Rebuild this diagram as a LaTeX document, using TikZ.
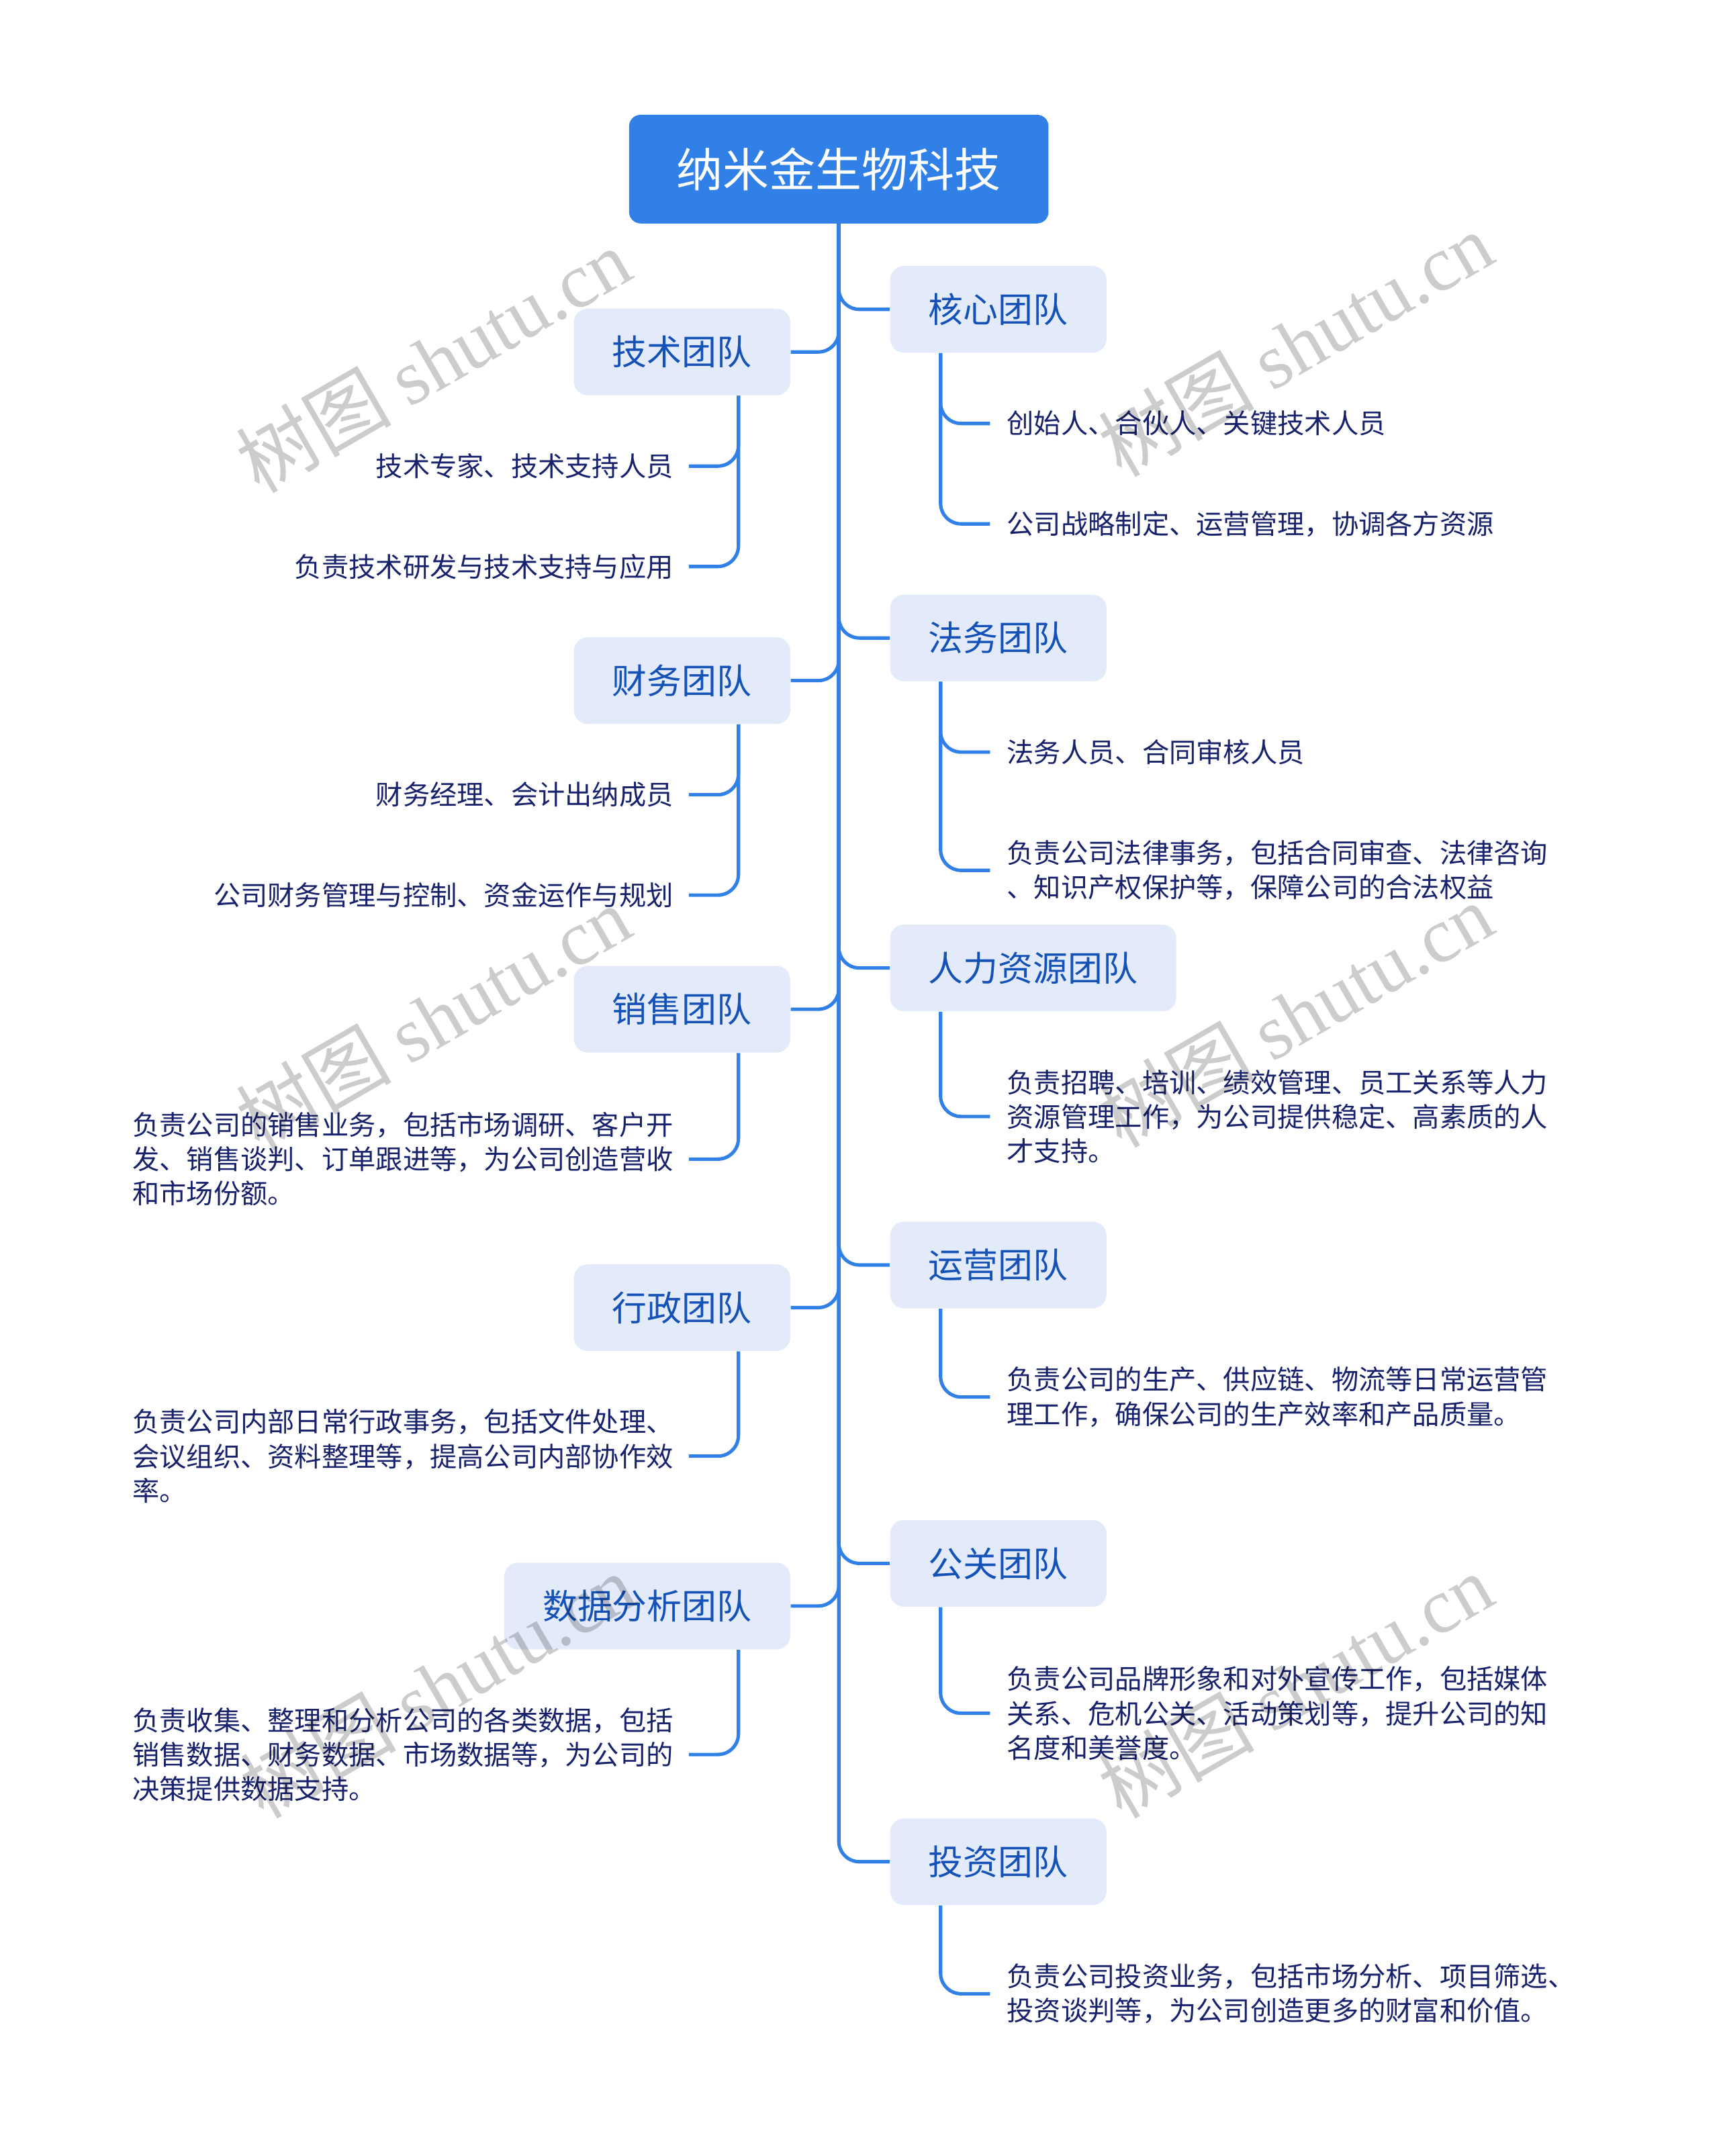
\documentclass[tikz,border=0pt]{standalone}
\usepackage{fontspec}
\setmainfont{Noto Sans CJK SC}
\newfontfamily\wmlat{Liberation Serif}
\definecolor{rootblue}{HTML}{3080E8}
\definecolor{lineblue}{HTML}{3080E8}
\definecolor{boxfill}{HTML}{E3EBFB}
\definecolor{teamtext}{HTML}{1552B8}
\definecolor{leaftext}{HTML}{18216C}
\begin{document}
\begin{tikzpicture}[x=0.6pt,y=-0.6pt,
  conn/.style={draw=lineblue,line width=1.5pt,rounded corners=9pt},
  rootbox/.style={fill=rootblue,rounded corners=5pt,text=white,font=\fontsize{20.2}{24}\selectfont,minimum height=47.4pt,inner xsep=20.8pt,inner ysep=0pt},
  teambox/.style={fill=boxfill,rounded corners=6pt,text=teamtext,font=\fontsize{15.2}{18}\selectfont,minimum height=37.8pt,inner xsep=16.8pt,inner ysep=0pt},
  leaf/.style={text=leaftext,font=\fontsize{11.8}{15}\selectfont,inner sep=0pt,align=left},
  leafL/.style={leaf,anchor=east},
  leafR/.style={leaf,anchor=west},
  wm/.style={text=black,text opacity=0.2,rotate=30,font=\fontsize{34}{38}\selectfont}
]
\useasboundingbox[fill=white] (0,0) rectangle (1250,1568);

\node[rootbox] (root) at (610,123) {纳米金生物科技};

% right branches
\node[teambox,anchor=west] (hx) at (647,225) {核心团队};
\node[teambox,anchor=west] (fw) at (647,464) {法务团队};
\node[teambox,anchor=west] (rl) at (647,704) {人力资源团队};
\node[teambox,anchor=west] (yy) at (647,920) {运营团队};
\node[teambox,anchor=west] (gg) at (647,1137) {公关团队};
\node[teambox,anchor=west] (tz) at (647,1354) {投资团队};

% left branches
\node[teambox,anchor=east] (js) at (575,256) {技术团队};
\node[teambox,anchor=east] (cw) at (575,495) {财务团队};
\node[teambox,anchor=east] (xs) at (575,734) {销售团队};
\node[teambox,anchor=east] (xz) at (575,951) {行政团队};
\node[teambox,anchor=east] (sj) at (575,1168) {数据分析团队};

% right leaves
\node[leafR] (hx1) at (732,308) {创始人、合伙人、关键技术人员};
\node[leafR] (hx2) at (732,381) {公司战略制定、运营管理，协调各方资源};
\node[leafR] (fw1) at (732,547) {法务人员、合同审核人员};
\node[leafR] (fw2) at (732,633) {负责公司法律事务，包括合同审查、法律咨询\\、知识产权保护等，保障公司的合法权益};
\node[leafR] (rl1) at (732,812) {负责招聘、培训、绩效管理、员工关系等人力\\资源管理工作，为公司提供稳定、高素质的人\\才支持。};
\node[leafR] (yy1) at (732,1016) {负责公司的生产、供应链、物流等日常运营管\\理工作，确保公司的生产效率和产品质量。};
\node[leafR] (gg1) at (732,1246) {负责公司品牌形象和对外宣传工作，包括媒体\\关系、危机公关、活动策划等，提升公司的知\\名度和美誉度。};
\node[leafR] (tz1) at (732,1450) {负责公司投资业务，包括市场分析、项目筛选、\\投资谈判等，为公司创造更多的财富和价值。};

% left leaves
\node[leafL] (js1) at (490,339) {技术专家、技术支持人员};
\node[leafL] (js2) at (490,412) {负责技术研发与技术支持与应用};
\node[leafL] (cw1) at (490,578) {财务经理、会计出纳成员};
\node[leafL] (cw2) at (490,651) {公司财务管理与控制、资金运作与规划};
\node[leafL] (xs1) at (490,843) {负责公司的销售业务，包括市场调研、客户开\\发、销售谈判、订单跟进等，为公司创造营收\\和市场份额。};
\node[leafL] (xz1) at (490,1059) {负责公司内部日常行政事务，包括文件处理、\\会议组织、资料整理等，提高公司内部协作效\\率。};
\node[leafL] (sj1) at (490,1276) {负责收集、整理和分析公司的各类数据，包括\\销售数据、财务数据、市场数据等，为公司的\\决策提供数据支持。};

% root connectors
\foreach \b in {hx,fw,rl,yy,gg,tz} \draw[conn] (root.south) |- (\b.west);
\foreach \b in {js,cw,xs,xz,sj} \draw[conn] (root.south) |- (\b.east);

% right leaf connectors
\foreach \b/\c in {hx/hx1,hx/hx2,fw/fw1,fw/fw2,rl/rl1,yy/yy1,gg/gg1,tz/tz1}
  \draw[conn] ([xshift=22.2pt]\b.south west) |- ([xshift=-7.2pt]\c.west);
% left leaf connectors
\foreach \b/\c in {js/js1,js/js2,cw/cw1,cw/cw2,xs/xs1,xz/xz1,sj/sj1}
  \draw[conn] ([xshift=-22.8pt]\b.south east) |- ([xshift=6.6pt]\c.east);

% watermarks
\node[wm] (w1) at (315,262) {树图 {\wmlat shutu.cn}};
\node[wm] (w2) at (942,250) {树图 {\wmlat shutu.cn}};
\node[wm] (w3) at (315,740) {树图 {\wmlat shutu.cn}};
\node[wm] (w4) at (942,738) {树图 {\wmlat shutu.cn}};
\node[wm] (w5) at (318,1226) {树图 {\wmlat shutu.cn}};
\node[wm] (w6) at (942,1226) {树图 {\wmlat shutu.cn}};
\end{tikzpicture}
\end{document}
